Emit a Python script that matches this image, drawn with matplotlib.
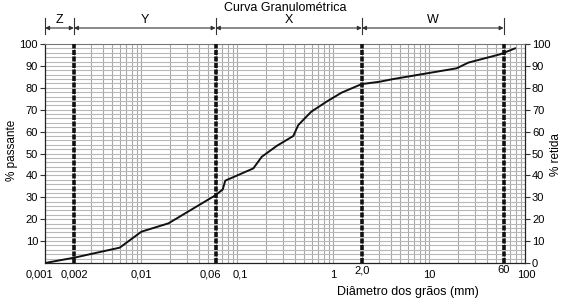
import matplotlib
matplotlib.use("Agg")
import matplotlib.pyplot as plt
import matplotlib.transforms as mtransforms
import numpy as np

plt.rcParams['font.family'] = ['Liberation Sans', 'DejaVu Sans']

# Data
diametro = [0.001, 0.002, 0.0060, 0.0101, 0.0193, 0.060, 0.071, 0.0755, 0.107,
            0.148, 0.181, 0.26, 0.386, 0.435, 0.594, 0.859, 1.23, 1.99, 3.09,
            4.25, 19.4, 25.7, 55.0, 78.7]
passante = [0.0, 2.4, 7.0, 14.3, 18.1, 31.0, 33.6, 37.6, 40.5,
            43.2, 48.5, 53.5, 58.0, 63.0, 69.1, 73.7, 77.8, 81.7, 82.8,
            84.0, 88.9, 91.5, 95.3, 98.0]

limites = [0.002, 0.06, 2.0, 60]
faixas_bordas = [0.001, 0.002, 0.06, 2.0, 60]
faixas_rotulos = ['Z', 'Y', 'X', 'W']

xticks = [0.001, 0.002, 0.01, 0.06, 0.1, 1, 2.0, 10, 60, 100]
xticklabels = ['0,001', '0,002', '0,01', '0,06', '0,1', '1', '2,0', '10', '60', '100']
yticks_left = [10, 20, 30, 40, 50, 60, 70, 80, 90, 100]
yticks_right = [0, 10, 20, 30, 40, 50, 60, 70, 80, 90, 100]

W, H = 573, 305
fig = plt.figure(figsize=(W / 100, H / 100), dpi=100)
ax = fig.add_axes([45 / W, 1 - 263 / H, 480 / W, 219 / H])

ax.set_xscale('log')
ax.set_xlim(0.001, 100)
ax.set_ylim(0, 100)

# grid
for d in range(-3, 2):
    for k in range(1, 10):
        v = k * 10.0 ** d
        if v <= 0.001 or v >= 100:
            continue
        ax.axvline(v, color='#a8a8a8', lw=0.8, zorder=1)
for yv in np.arange(2, 100, 2):
    ax.axhline(yv, color='#b8b8b8', lw=0.8, zorder=1)

for v in limites:
    ax.axvline(v, color='#111111', lw=2.6, linestyle=(0, (1.4, 0.4)), zorder=3)

ax.plot(diametro, passante, color='#111111', lw=1.4, zorder=4)

ax.set_xticks(xticks)
ax.set_xticklabels(xticklabels, fontsize=8)
ax.xaxis.set_minor_locator(matplotlib.ticker.NullLocator())
ax.tick_params(axis='x', length=0, pad=5)
ax.set_yticks(yticks_left)
ax.tick_params(axis='y', length=3.5, width=0.8, labelsize=8, pad=1.5, color='#333333')

# small label offsets as in the reference (pixels)
offsets = {'0,001': (-6, 0), '0,002': (1, 0), '0,06': (-5, 0), '0,1': (3, 0),
           '2,0': (0, 4), '60': (0, 5), '100': (1, 0)}
for lbl in ax.get_xticklabels():
    t = lbl.get_text()
    if t in offsets:
        dx, dy = offsets[t]
        lbl.set_transform(lbl.get_transform() +
                          mtransforms.ScaledTranslation(dx / 100, dy / 100, fig.dpi_scale_trans))

for s in ['left', 'bottom', 'right']:
    ax.spines[s].set_color('#222222')
    ax.spines[s].set_linewidth(0.9)
ax.spines['top'].set_color('#777777')
ax.spines['top'].set_linewidth(0.8)

ax2 = ax.twinx()
ax2.set_ylim(0, 100)
ax2.set_yticks(yticks_right)
ax2.tick_params(axis='y', length=3.5, width=0.8, labelsize=8, pad=1.5, color='#333333')
for s in ax2.spines.values():
    s.set_visible(False)

fig.text(12 / W, 1 - 150 / H, '% passante', rotation=90, fontsize=8.5,
         ha='center', va='center')
fig.text(556 / W, 1 - 155 / H, '% retida', rotation=90, fontsize=8.5,
         ha='center', va='center')
fig.text(408 / W, 1 - 292 / H, 'Diâmetro dos grãos (mm)', fontsize=9,
         ha='center', va='center')
fig.text(285 / W, 1 - 8 / H, 'Curva Granulométrica', fontsize=9,
         ha='center', va='center')

# dimension lines for Z, Y, X, W
tr = mtransforms.blended_transform_factory(ax.transData, fig.transFigure)
y_line = 1 - 28 / H
for b in faixas_bordas:
    ax.plot([b, b], [1 - 18 / H, 1 - 34 / H], color='#333333', lw=0.8,
            transform=tr, clip_on=False)
for i, lab in enumerate(faixas_rotulos):
    a, b = faixas_bordas[i], faixas_bordas[i + 1]
    ax.annotate('', xy=(b, y_line), xytext=(a, y_line), xycoords=tr, textcoords=tr,
                arrowprops=dict(arrowstyle='<|-|>', color='#333333', lw=0.8,
                                mutation_scale=6, shrinkA=0, shrinkB=0),
                annotation_clip=False)
    fig.text(np.sqrt(a * b), 1 - 20 / H, lab, fontsize=9, ha='center', va='center',
             transform=tr)

fig.savefig('out.png', dpi=100)
